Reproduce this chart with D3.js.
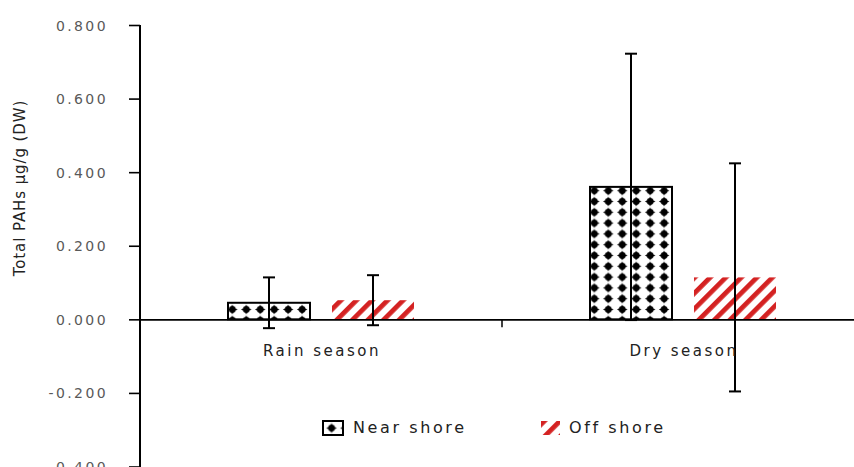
<!DOCTYPE html>
<html>
<head>
<meta charset="utf-8">
<script src="https://cdn.jsdelivr.net/npm/d3@7"></script>
<style>
  html, body { margin: 0; padding: 0; background: #fff; }
  svg { display: block; }
</style>
</head>
<body>
<svg id="chart" width="854" height="467"></svg>
<script>
// Seasonal totals of PAHs in sediment, mean ± SD
const seasons = ["Rain season", "Dry season"];
const sites = ["Near shore", "Off shore"];
const nearShore = [0.045, 0.360];
const offShore = [0.052, 0.114];
const nearShoreSD = [0.069, 0.362];
const offShoreSD = [0.068, 0.310];
const yTicks = [-0.4, -0.2, 0, 0.2, 0.4, 0.6, 0.8];

const rows = seasons.map((s, i) => ({
  season: s,
  bars: [
    { site: sites[0], value: nearShore[i], sd: nearShoreSD[i] },
    { site: sites[1], value: offShore[i], sd: offShoreSD[i] }
  ]
}));

const svg = d3.select("#chart");
const W = 854, H = 467;
const plotLeft = 140, plotRight = 864, plotTop = 25, plotBottom = 466.5;

const y = d3.scaleLinear().domain([-0.4, 0.8]).range([plotBottom, plotTop]);
const x = d3.scaleBand().domain(seasons).range([plotLeft, plotRight]).padding(0);
const xSub = d3.scaleBand().domain(sites)
  .range([88, x.bandwidth() - 88]).paddingInner(0.2115);

// Fill patterns
const defs = svg.append("defs");
const pw = 13.96, ph = 10.8;
const dots = defs.append("pattern")
  .attr("id", "stars").attr("patternUnits", "userSpaceOnUse")
  .attr("width", pw).attr("height", ph).attr("x", 1.6).attr("y", 1.7);
dots.append("rect").attr("width", pw).attr("height", ph).attr("fill", "#fff");
const cx = pw / 2, cy = ph / 2;
dots.append("path")
  .attr("d", `M${cx},${cy - 5} L${cx + 1.8},${cy - 1.8} L${cx + 5.2},${cy} L${cx + 1.8},${cy + 1.8} L${cx},${cy + 5} L${cx - 1.8},${cy + 1.8} L${cx - 5.2},${cy} L${cx - 1.8},${cy - 1.8} Z`)
  .attr("fill", "#000");
dots.append("circle").attr("cx", cx).attr("cy", cy).attr("r", 3.4).attr("fill", "#000");

const stripes = defs.append("pattern")
  .attr("id", "stripes").attr("patternUnits", "userSpaceOnUse")
  .attr("width", 11).attr("height", 11)
  .attr("patternTransform", "rotate(45)");
stripes.append("rect").attr("width", 11).attr("height", 11).attr("fill", "#fff");
stripes.append("rect").attr("x", 0).attr("width", 4.8).attr("height", 11).attr("fill", "#d42222");

const fillFor = site => site === sites[0] ? "url(#stars)" : "url(#stripes)";
const fmt = d => d.toFixed(3);

// Y axis
const yAxis = svg.append("g")
  .attr("transform", `translate(${plotLeft},0)`)
  .call(d3.axisLeft(y).tickValues(yTicks).tickFormat(fmt).tickSize(11).tickSizeOuter(0));
yAxis.select(".domain").attr("stroke", "#000").attr("stroke-width", 2)
  .attr("d", `M0,${plotTop}V${H + 5}`);
yAxis.selectAll(".tick line").attr("stroke", "#000").attr("stroke-width", 1.6);
yAxis.selectAll(".tick text")
  .attr("x", -32).attr("dy", "0.36em")
  .attr("fill", "#595959")
  .style("font-family", "'DejaVu Sans', sans-serif")
  .style("font-size", "14px")
  .style("letter-spacing", "2.4px");

// Y axis title
svg.append("text")
  .attr("transform", `translate(25,${188}) rotate(-90)`)
  .attr("text-anchor", "middle")
  .attr("fill", "#222")
  .style("font-family", "'DejaVu Sans', sans-serif")
  .style("font-size", "15px")
  .style("letter-spacing", "0.9px")
  .text("Total PAHs μg/g (DW)");

// Bars
const groups = svg.append("g").selectAll("g.season")
  .data(rows).join("g")
  .attr("class", "season")
  .attr("transform", d => `translate(${x(d.season)},0)`);

groups.selectAll("rect.bar")
  .data(d => d.bars).join("rect")
  .attr("class", "bar")
  .attr("x", d => xSub(d.site))
  .attr("width", xSub.bandwidth())
  .attr("y", d => y(Math.max(0, d.value)))
  .attr("height", d => Math.abs(y(d.value) - y(0)))
  .attr("fill", d => fillFor(d.site))
  .attr("stroke", d => d.site === sites[0] ? "#000" : "none")
  .attr("stroke-width", 2);

// X axis (zero line) with category divider tick
const xAxis = svg.append("g")
  .attr("transform", `translate(0,${y(0)})`)
  .call(d3.axisBottom(x).tickSize(0).tickSizeOuter(0).tickFormat(""));
xAxis.select(".domain").attr("stroke", "#000").attr("stroke-width", 1.6);
xAxis.selectAll(".tick").remove();
svg.append("g").selectAll("line.div")
  .data(seasons.slice(1)).join("line")
  .attr("x1", d => x(d)).attr("x2", d => x(d))
  .attr("y1", y(0)).attr("y2", y(0) + 8)
  .attr("stroke", "#000").attr("stroke-width", 1.5);

// Error bars
const err = groups.selectAll("g.err")
  .data(d => d.bars).join("g")
  .attr("class", "err")
  .attr("transform", d => `translate(${xSub(d.site) + xSub.bandwidth() / 2},0)`);
err.append("line")
  .attr("y1", d => y(d.value + d.sd)).attr("y2", d => y(d.value - d.sd))
  .attr("stroke", "#000").attr("stroke-width", 2);
err.append("line").attr("x1", -6).attr("x2", 6)
  .attr("y1", d => y(d.value + d.sd)).attr("y2", d => y(d.value + d.sd))
  .attr("stroke", "#000").attr("stroke-width", 2);
err.append("line").attr("x1", -6).attr("x2", 6)
  .attr("y1", d => y(d.value - d.sd)).attr("y2", d => y(d.value - d.sd))
  .attr("stroke", "#000").attr("stroke-width", 2);

// Category labels
svg.append("g").selectAll("text")
  .data(seasons).join("text")
  .attr("x", d => x(d) + x.bandwidth() / 2 + 1)
  .attr("y", 356)
  .attr("text-anchor", "middle")
  .attr("fill", "#222")
  .style("font-family", "'DejaVu Sans', sans-serif")
  .style("font-size", "15px")
  .style("letter-spacing", "2.5px")
  .text(d => d);

// Legend
const legendX = [323, 541];
const leg = svg.append("g").selectAll("g")
  .data(sites).join("g")
  .attr("transform", (d, i) => `translate(${legendX[i]},421)`);
leg.append("rect")
  .attr("width", d => d === sites[0] ? 20 : 19)
  .attr("height", 14)
  .attr("fill", d => fillFor(d))
  .attr("stroke", d => d === sites[0] ? "#000" : "none")
  .attr("stroke-width", 2);
leg.append("text")
  .attr("x", (d, i) => i === 0 ? 30 : 28)
  .attr("y", 12)
  .attr("fill", "#222")
  .style("font-family", "'DejaVu Sans', sans-serif")
  .style("font-size", "16px")
  .style("letter-spacing", "2.6px")
  .text(d => d);
</script>
</body>
</html>
